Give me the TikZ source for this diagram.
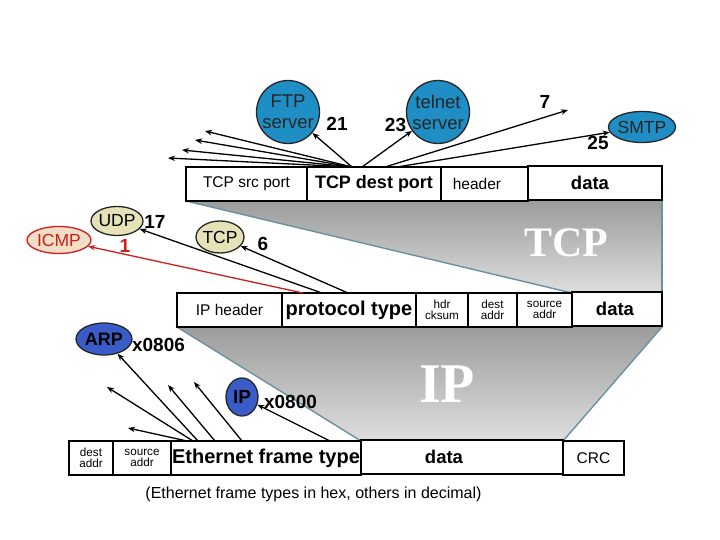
\documentclass[tikz,border=0pt]{standalone}
\usepackage{fontspec}
\setmainfont{Liberation Sans}
\newfontfamily\tnr{Liberation Serif}
\usetikzlibrary{arrows.meta,shapes.geometric}
\definecolor{cer}{RGB}{30,142,196}
\definecolor{royal}{RGB}{58,92,200}
\definecolor{khaki}{RGB}{230,226,184}
\definecolor{pinkish}{RGB}{242,222,196}
\definecolor{icmpred}{RGB}{205,30,30}
\definecolor{edgeblue}{RGB}{105,145,162}
\definecolor{shtop}{RGB}{156,156,156}
\definecolor{shbot}{RGB}{222,222,222}
\newcommand{\zw}[1]{\makebox[0pt]{#1}}
\tikzset{
  field/.style={draw, line width=1.8pt, inner sep=0pt, minimum height=34pt, align=center, fill=white},
  fa/.style={font=\fontsize{15.5}{17}\selectfont},
  fb/.style={font=\fontsize{18}{19}\selectfont\bfseries},
  fbig/.style={font=\fontsize{20}{21}\selectfont\bfseries},
  fdata/.style={font=\fontsize{18.5}{19}\selectfont\bfseries},
  fsm/.style={font=\fontsize{11.7}{12.5}\selectfont},
  num/.style={font=\fontsize{19}{20}\selectfont\bfseries, inner sep=0pt},
  srv/.style={circle, draw=black!85, line width=1.3pt, fill=cer, inner sep=0pt, align=center, font=\fontsize{18.5}{21}\selectfont, text=black!85},
  ell/.style={ellipse, draw=black!85, line width=1.3pt, inner sep=0pt, font=\fontsize{17.5}{18}\selectfont},
  arr/.style={-{Stealth[length=7pt,width=5.5pt]}, line width=1.3pt},
  edge/.style={draw=edgeblue, line width=1.4pt},
  bigtxt/.style={text=white}
}
\begin{document}
\begin{tikzpicture}[x=1pt,y=-1pt]
\useasboundingbox (0,0) rectangle (720,540);
% shaded trapezoids
\shade[top color=shtop, bottom color=shbot] (186,201) -- (662,201) -- (662,293) -- (572,293) -- cycle;
\draw[edge] (186,201) -- (572,293);
\draw[edge] (662,201) -- (662,293);
\shade[top color=shtop, bottom color=shbot] (177,327) -- (662,327) -- (563,441) -- (361,441) -- cycle;
\draw[edge] (177,327) -- (361,441);
\draw[edge] (662,327) -- (563,441);
\node[bigtxt, font=\fontsize{42}{44}\selectfont\tnr\bfseries] (tcpbig) at (566,243) {TCP};
\node[bigtxt, font=\fontsize{56}{58}\selectfont\tnr\bfseries] (ipbig) at (447,384) {IP};

% TCP row
\node[field, fa, minimum width=121pt] (tsrc) at (246.5,184) {TCP src port};
\node[field, fb, minimum width=134pt] (tdst) at (374,184) {TCP dest port};
\node[field, fa, minimum width=87pt] (thdr) at (484.5,184) {\hspace*{-15pt}header};
\node[field, fdata, minimum width=134pt] (tdata) at (595,183) {\hspace*{-10pt}data};

% IP row
\node[field, fa, minimum width=105pt] (iphdr) at (229.5,310) {IP header};
\node[field, fbig, minimum width=134pt] (proto) at (349,310) {protocol type};
\node[field, fsm, minimum width=52pt] (cks) at (442,310) {hdr\\[-2pt]cksum};
\node[field, fsm, minimum width=49pt] (ipdst) at (492.5,310) {dest\\[-2pt]addr};
\node[field, fsm, minimum width=55pt] (ipsrc) at (544.5,310) {source\\[-2pt]addr};
\node[field, fdata, minimum width=90pt] (ipdata) at (617,309) {\hspace*{-4pt}data};

% Ethernet row
\node[field, fsm, minimum width=44pt] (edst) at (91,458) {dest\\[-2pt]addr};
\node[field, fsm, minimum width=58pt] (esrc) at (142,458) {source\\[-2pt]addr};
\node[field, fbig, minimum width=190pt] (etype) at (266,458) {Ethernet frame type};
\node[field, fdata, minimum width=202pt] (edata) at (462,457) {\hspace*{-36pt}data};
\node[field, fa, minimum width=61pt] (crc) at (593.5,458) {CRC};

% top servers
\node[srv, minimum size=63pt] (ftp) at (288,112) {\zw{FTP}\\\zw{server}};
\node[srv, minimum size=63pt] (telnet) at (438,112) {\zw{telnet}\\\zw{server}};
\node[ell, fill=cer, text=black!85, minimum width=67pt, minimum height=31pt] (smtp) at (642,127) {\zw{SMTP}};
\node[num] (n21) at (337,124) {21};
\node[num] (n23) at (395.5,125) {23};
\node[num] (n7) at (545,101.5) {7};
\node[num] (n25) at (598,142.5) {25};

\coordinate (d0) at (352,167);
\coordinate (d1) at (362,167);
\coordinate (d2) at (385,167);
\coordinate (d3) at (397,167);
\coordinate (f1) at (205,131);
\coordinate (f2) at (195,140);
\coordinate (f3) at (182,150);
\coordinate (f4) at (168,158);
\coordinate (f7) at (568,110);
\draw[arr] (d0) -- (f1);
\draw[arr] (d0) -- (f2);
\draw[arr] (d0) -- (f3);
\draw[arr] (d0) -- (f4);
\draw[arr] (d0) -- (ftp);
\draw[arr] (d1) -- (telnet);
\draw[arr] (d2) -- (f7);
\draw[arr] (d3) -- (smtp);

% transport protocols
\node[ell, fill=khaki, minimum width=52pt, minimum height=29pt] (udp) at (117,221) {\zw{UDP}};
\node[ell, fill=khaki, minimum width=48pt, minimum height=32pt] (tcp) at (220,237) {\zw{TCP}};
\node[ell, fill=pinkish, draw=icmpred, text=icmpred, minimum width=64pt, minimum height=27pt] (icmp) at (59,240) {\zw{ICMP}};
\node[num] (n17) at (155,221.5) {17};
\node[num, text=icmpred] (n1) at (125,246) {1};
\node[num] (n6) at (263,244) {6};
\coordinate (p0) at (303,293);
\coordinate (p1) at (322,293);
\coordinate (p2) at (348,293);
\draw[arr, draw=icmpred] (p0) -- (icmp);
\draw[arr] (p1) -- (udp);
\draw[arr] (p2) -- (tcp);

% network protocols
\node[ell, fill=royal, minimum width=56pt, minimum height=32pt, font=\fontsize{18}{19}\selectfont\bfseries] (arp) at (104,339) {\zw{ARP}};
\node[ell, fill=royal, minimum width=32pt, minimum height=38pt, font=\fontsize{19}{20}\selectfont\bfseries] (ip) at (242,397) {\zw{IP}};
\node[num] (x0806) at (158.5,345) {x0806};
\node[num] (x0800) at (290.5,401.5) {x0800};
\coordinate (e0) at (187,441);
\coordinate (e1) at (193,441);
\coordinate (e2) at (198,441);
\coordinate (e3) at (215,441);
\coordinate (e4) at (242,441);
\coordinate (e5) at (330,441);
\coordinate (g0) at (128,428);
\coordinate (g1) at (107,387);
\coordinate (g3) at (168,385);
\coordinate (g4) at (194,382);
\draw[arr] (e0) -- (g0);
\draw[arr] (e1) -- (g1);
\draw[arr] (e2) -- (arp);
\draw[arr] (e3) -- (g3);
\draw[arr] (e4) -- (g4);
\draw[arr] (e5) -- (ip);

\node[font=\fontsize{16}{17}\selectfont] (note) at (313.5,494) {(Ethernet frame types in hex, others in decimal)};
\end{tikzpicture}
\end{document}
